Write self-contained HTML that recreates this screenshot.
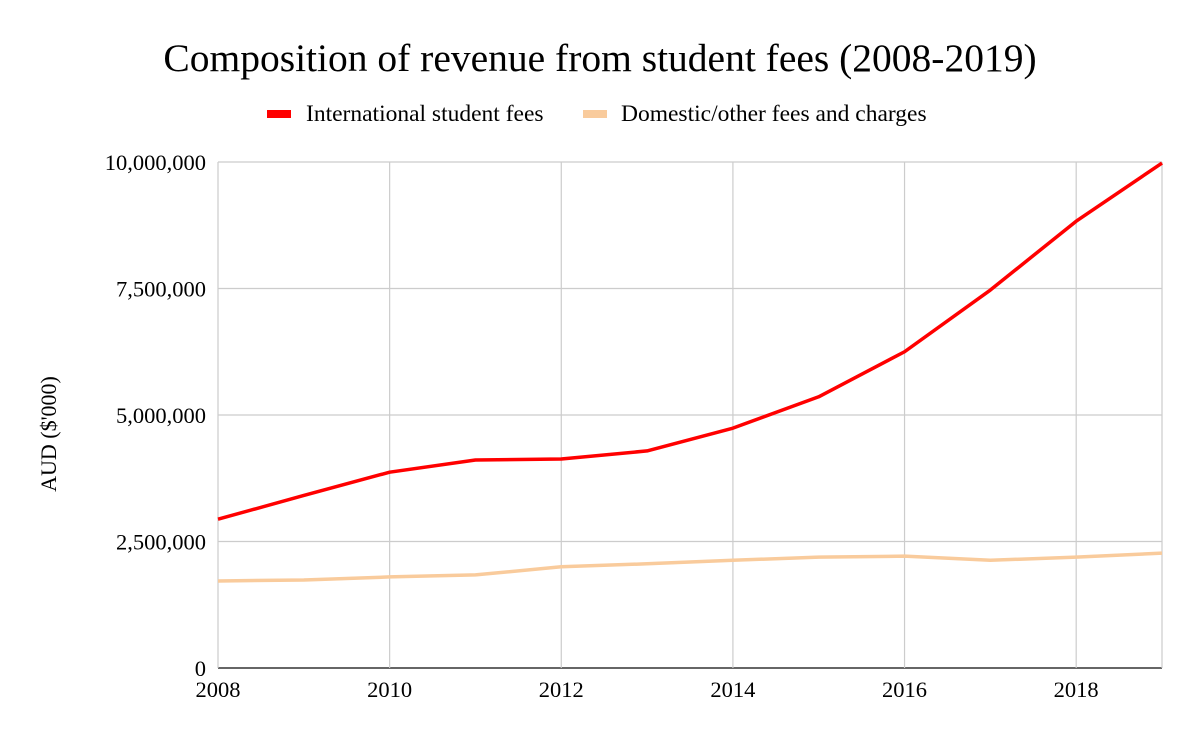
<!DOCTYPE html>
<html><head><meta charset="utf-8"><style>
body{margin:0;background:#fff;}
svg text{font-family:"Liberation Serif",serif;fill:#000;}
</style></head><body>
<svg id="chart" width="1200" height="742">
<text x="600" y="71" text-anchor="middle" font-size="39.5">Composition of revenue from student fees (2008-2019)</text>
<g>
<g><rect x="267" y="110" width="24" height="8" fill="#ff0000"/><text x="306" y="121" font-size="23.5">International student fees</text></g>
<g><rect x="583" y="110" width="24" height="8" fill="#f9cb9c"/><text x="621" y="121" font-size="23.5">Domestic/other fees and charges</text></g>
</g>
<text transform="translate(56,434) rotate(-90)" text-anchor="middle" font-size="22">AUD ($'000)</text>
<g id="grid"></g><g id="lines"></g><g id="labels"></g>
</svg>
<script>
const years=[2008,2009,2010,2011,2012,2013,2014,2015,2016,2017,2018,2019];
const international=[2940000,3410000,3870000,4110000,4130000,4290000,4740000,5360000,6250000,7470000,8830000,9980000];
const domestic=[1720000,1740000,1800000,1840000,2000000,2060000,2130000,2190000,2210000,2130000,2190000,2270000];
const yTicks=[0,2500000,5000000,7500000,10000000];
const xTicks=[2008,2010,2012,2014,2016,2018];
const NS="http://www.w3.org/2000/svg";
const x0=218,x1=1162,y0=668,y1=162;
const xs=v=>x0+(v-2008)/(2019-2008)*(x1-x0);
const ys=v=>y0-v/10000000*(y0-y1);
function mk(t,a,p){const e=document.createElementNS(NS,t);for(const k in a)e.setAttribute(k,a[k]);p.appendChild(e);return e;}
const g=document.getElementById('grid'),l=document.getElementById('lines'),lb=document.getElementById('labels');
yTicks.forEach(v=>{const y=ys(v);
const ln=mk('line',{x1:x0,x2:x1,y1:y,y2:y,stroke:v===0?'#333':'#ccc','stroke-width':v===0?1.5:1.2},g);


const t=mk('text',{x:x0-12,y:y+8,'text-anchor':'end','font-size':'22.5'},lb);t.textContent=v.toLocaleString('en-US');

});
xTicks.concat([2019]).forEach(v=>{const x=xs(v);
const ln=mk('line',{x1:x,x2:x,y1:y1,y2:y0,stroke:'#ccc','stroke-width':1.2},g);

});
xTicks.forEach(v=>{const t=mk('text',{x:xs(v),y:y0+29,'text-anchor':'middle','font-size':'22.5'},lb);t.textContent=v;

});
function series(data,color,name){const p=mk('polyline',{points:data.map((v,i)=>xs(years[i])+','+ys(v)).join(' '),fill:'none',stroke:color,'stroke-width':3.5,'stroke-linejoin':'round'},l);

}
series(domestic,'#f9cb9c','domestic-fees-line');
series(international,'#ff0000','international-fees-line');
</script>
</body></html>
